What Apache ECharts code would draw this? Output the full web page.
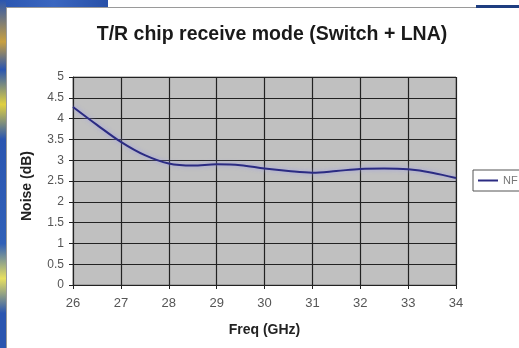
<!DOCTYPE html>
<html><head><meta charset="utf-8">
<script src="https://cdn.jsdelivr.net/npm/echarts@6/dist/echarts.min.js"></script>
<style>
html,body{margin:0;padding:0;background:#fff;}
#wrap{position:relative;width:519px;height:348px;overflow:hidden;background:#fff;}
#chart{position:absolute;left:0;top:0;width:519px;height:348px;}
.deco{position:absolute;}
</style></head><body>
<div id="wrap">
<div class="deco" style="left:0;top:0;width:108px;height:7px;background:linear-gradient(90deg,#2a55b0,#3a66c0,#2850a8);"></div>
<div class="deco" style="left:0;top:0;width:6px;height:348px;background:linear-gradient(180deg,#2a55b0 0%,#c8a040 12%,#2a55b0 20%,#e0d040 30%,#2a55b0 40%,#3060b8 70%,#e8e060 80%,#2a55b0 90%);"></div>
<div class="deco" style="left:476px;top:5px;width:43px;height:3px;background:#1e3d80;"></div>
<div class="deco" style="left:6px;top:7px;width:470px;height:1px;background:#9a9a9a;"></div>
<div class="deco" style="left:6px;top:7px;width:1px;height:341px;background:#9a9a9a;"></div>
<div id="chart"></div>
</div>
<script>
var freq = [26, 26.5, 27, 27.5, 28, 28.5, 29, 29.5, 30, 30.5, 31, 31.5, 32, 32.5, 33, 33.5, 34];
var nf = [4.28, 3.85, 3.44, 3.12, 2.92, 2.87, 2.9, 2.88, 2.8, 2.74, 2.7, 2.74, 2.79, 2.8, 2.78, 2.7, 2.57];
var seriesName = 'NF';
var title = 'T/R chip receive mode (Switch + LNA)';
var xName = 'Freq (GHz)';
var yName = 'Noise (dB)';

var chart = echarts.init(document.getElementById('chart'), null, {renderer:'canvas'});
var data = freq.map(function(f,i){return [f, nf[i]];});
chart.setOption({
  animation:false,
  backgroundColor:'transparent',
  title:{text:title,left:267,top:20,textAlign:'center',
    textStyle:{fontFamily:'Liberation Sans, Arial',fontWeight:'bold',fontSize:19.5,color:'#1a1a1a'}},
  legend:{data:[{name:seriesName,icon:'path://M0,0 L20,0 L20,2 L0,2 Z'}],left:473,top:170,orient:'vertical',
    itemWidth:20,itemHeight:2,itemGap:4,padding:[5,5,5,5],
    borderColor:'#555',borderWidth:1,backgroundColor:'#fff',borderRadius:0,
    textStyle:{fontFamily:'Liberation Sans, Arial',fontSize:11,color:'#777'}},
  grid:{left:73,right:63,top:77,bottom:63,show:true,backgroundColor:'#c0c0c0',borderColor:'#808080',borderWidth:1},
  xAxis:{type:'value',min:26,max:34,interval:1,name:xName,nameLocation:'middle',nameGap:38,
    nameTextStyle:{fontFamily:'Liberation Sans, Arial',fontWeight:'bold',fontSize:14,color:'#222'},
    axisLine:{show:true,onZero:false,lineStyle:{color:'#222',width:1}},
    axisTick:{show:true,length:4,inside:false,lineStyle:{color:'#222'}},
    axisLabel:{fontFamily:'Liberation Sans, Arial',fontSize:13,color:'#555',margin:12},
    splitLine:{show:true,lineStyle:{color:'#222',width:1.2}}},
  yAxis:{type:'value',min:0,max:5,interval:0.5,name:yName,nameLocation:'middle',nameGap:39,nameRotate:90,
    nameTextStyle:{fontFamily:'Liberation Sans, Arial',fontWeight:'bold',fontSize:14,color:'#222',padding:[0,10,0,0]},
    axisLine:{show:true,lineStyle:{color:'#222',width:1}},
    axisTick:{show:true,length:4,lineStyle:{color:'#222'}},
    axisLabel:{fontFamily:'Liberation Sans, Arial',fontSize:12,color:'#555',margin:9,
      formatter:function(v){return String(v);}},
    splitLine:{show:true,lineStyle:{color:'#222',width:1.2}}},
  series:[{name:seriesName,type:'line',data:data,smooth:0.35,showSymbol:false,
    lineStyle:{color:'#2b2b82',width:2,shadowColor:'rgba(150,150,240,0.8)',shadowBlur:4},
    itemStyle:{color:'#2b2b82'}}]
});
</script>
</body></html>
